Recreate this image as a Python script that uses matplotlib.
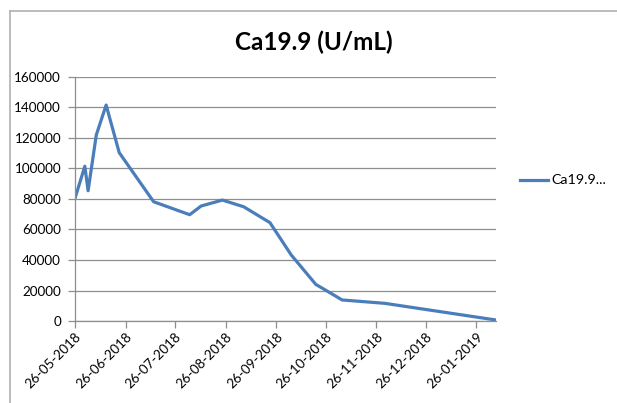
import matplotlib
matplotlib.use("Agg")
import matplotlib.pyplot as plt
from matplotlib.lines import Line2D
import pandas as pd

dates = ["2018-05-26", "2018-06-01", "2018-06-03", "2018-06-08", "2018-06-14",
         "2018-06-22", "2018-07-13", "2018-08-04", "2018-08-11", "2018-08-24",
         "2018-09-06", "2018-09-22", "2018-10-05", "2018-10-20", "2018-11-01",
         "2018-11-05", "2018-12-01", "2019-02-07"]
values = [80500, 101500, 85400, 122000, 141600,
          110400, 78200, 69700, 75400, 79300,
          74900, 64500, 43300, 24000, 16400,
          13800, 11600, 650]
tick_dates = ["2018-05-26", "2018-06-26", "2018-07-26", "2018-08-26", "2018-09-26",
              "2018-10-26", "2018-11-26", "2018-12-26", "2019-01-26"]
yticks = [0, 20000, 40000, 60000, 80000, 100000, 120000, 140000, 160000]
title = "Ca19.9 (U/mL)"
series_name = "Ca19.9..."

plt.rcParams['font.family'] = ['Lato', 'DejaVu Sans']

x = pd.to_datetime(dates)
fig = plt.figure(figsize=(6.17, 4.03), dpi=100)
ax = fig.add_axes([75/617, 1-321/403, (496-75)/617, (321-77)/403])

line, = ax.plot(x, values, color="#4A7EBB", lw=2.3, solid_joinstyle='round')
ax.set_xlim(x[0], x[-1])
ax.set_ylim(0, 160000)
ax.set_yticks(yticks)
ax.set_yticklabels([str(v) for v in yticks])
ax.yaxis.grid(True, color="#8E8E8E", lw=0.9)
ax.set_axisbelow(True)
td = pd.to_datetime(tick_dates)
ax.set_xticks(td)
ax.set_xticklabels([d.strftime("%d-%m-%Y") for d in td], rotation=45,
                   ha='right', va='top', rotation_mode='anchor')
for s in ['top', 'right']:
    ax.spines[s].set_visible(False)
for s in ['left', 'bottom']:
    ax.spines[s].set_color("#8E8E8E")
    ax.spines[s].set_linewidth(0.9)
ax.tick_params(axis='both', colors="#8E8E8E", labelcolor="black", labelsize=9.7,
               length=5, width=0.9)
ax.tick_params(axis='x', pad=2)
ax.tick_params(axis='y', pad=5)

fig.text(314/617, 1-42/403, title, ha='center', va='center', fontsize=17.5,
         fontweight='bold')

fig.add_artist(Line2D([520/617, 548/617], [1-180/403, 1-180/403],
                      color="#4A7EBB", lw=2.3))
fig.text(551/617, 1-180/403, series_name, ha='left', va='center', fontsize=10.3)

fig.add_artist(Line2D([9.5/617, 9.5/617], [0, 1-10.5/403], color="#B0B0B0", lw=1.2))
fig.add_artist(Line2D([9.5/617, 1], [1-10.5/403, 1-10.5/403], color="#B0B0B0", lw=1.2))

fig.savefig("out.png", dpi=100)
